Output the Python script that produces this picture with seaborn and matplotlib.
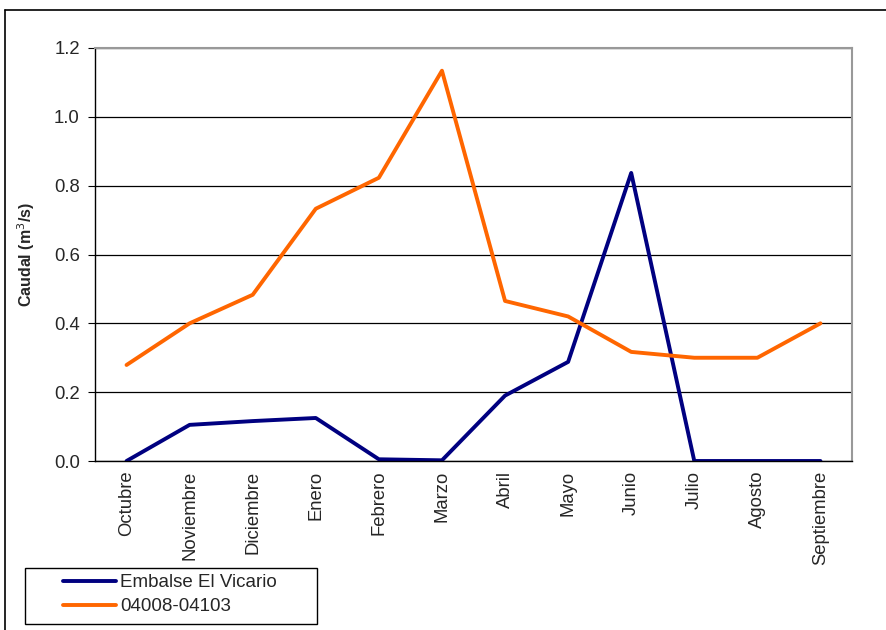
import numpy as np
import pandas as pd
import matplotlib.pyplot as plt
import seaborn as sns
from matplotlib.lines import Line2D
from matplotlib.patches import Rectangle

# Data
MONTHS = ["Octubre", "Noviembre", "Diciembre", "Enero", "Febrero", "Marzo",
          "Abril", "Mayo", "Junio", "Julio", "Agosto", "Septiembre"]
VICARIO = [0.0, 0.105, 0.116, 0.125, 0.005, 0.002, 0.19, 0.288, 0.837, 0.0, 0.0, 0.0]
ESTACION = [0.279, 0.40, 0.483, 0.733, 0.823, 1.134, 0.465, 0.42, 0.317, 0.30, 0.30, 0.40]
SERIES = ["Embalse El Vicario", "04008-04103"]
COLORS = ["#000080", "#FF6600"]

sns.set_style("white")
plt.rcParams['font.family'] = ['Liberation Sans', 'DejaVu Sans']

df = pd.DataFrame({
    'idx': list(range(len(MONTHS))) * 2,
    'caudal': VICARIO + ESTACION,
    'serie': [SERIES[0]] * len(MONTHS) + [SERIES[1]] * len(MONTHS),
})

fig = plt.figure(figsize=(8.86, 6.30), dpi=100)
ax = fig.add_axes([95 / 886, 1 - 461 / 630, (852 - 95) / 886, (461 - 48) / 630])

sns.lineplot(data=df, x='idx', y='caudal', hue='serie', hue_order=SERIES,
             palette=COLORS, linewidth=2.8, legend=False, ax=ax)

ax.set_xlim(-0.5, len(MONTHS) - 0.5)
ax.set_ylim(0, 1.2)
ax.set_yticks(np.arange(0, 1.21, 0.2))
ax.set_yticklabels([f"{v:.1f}" for v in np.arange(0, 1.21, 0.2)], fontsize=13.3)
ax.yaxis.grid(True, color='black', linewidth=0.9)
ax.set_axisbelow(True)

# category labels at centers, ticks between categories
ax.set_xticks(range(len(MONTHS)))
ax.set_xticklabels(MONTHS, rotation=90, fontsize=13.3)
ax.tick_params(axis='x', which='major', length=0, pad=7)
ax.set_xticks(np.arange(-0.5, len(MONTHS), 1), minor=True)
ax.tick_params(axis='x', which='minor', length=5, color='black', direction='out')
ax.tick_params(axis='y', length=5, color='black', direction='out', left=True, pad=6)

ax.set_xlabel("")
ax.set_ylabel("Caudal (m$^3$/s)", fontsize=11.5, fontweight='bold', labelpad=12)

for side in ['left', 'bottom']:
    ax.spines[side].set_color('black')
    ax.spines[side].set_linewidth(1.0)
for side in ['top', 'right']:
    ax.spines[side].set_color('#999999')
    ax.spines[side].set_linewidth(1.5)

# outer chart border
fig.add_artist(Line2D([5 / 886, 5 / 886], [0, 1 - 10 / 630], color='black', linewidth=1.2))
fig.add_artist(Line2D([5 / 886, 1], [1 - 10 / 630, 1 - 10 / 630], color='black', linewidth=1.2))

# legend box drawn separately (Excel style, wide padding)
fig.add_artist(Rectangle((25 / 886, 1 - 624 / 630), (317 - 25) / 886, (624 - 568) / 630,
                         transform=fig.transFigure, fill=False, edgecolor='black', linewidth=1.0))
handles = [Line2D([], [], color=c, linewidth=2.8) for c in COLORS]
fig.legend(handles, SERIES, loc='upper left',
           bbox_to_anchor=(63 / 886, 1 - 574 / 630), bbox_transform=fig.transFigure,
           fontsize=13.5, frameon=False, handlelength=2.8, handletextpad=0.25,
           borderpad=0, labelspacing=0.38, borderaxespad=0)

fig.savefig("out.png", dpi=100)
